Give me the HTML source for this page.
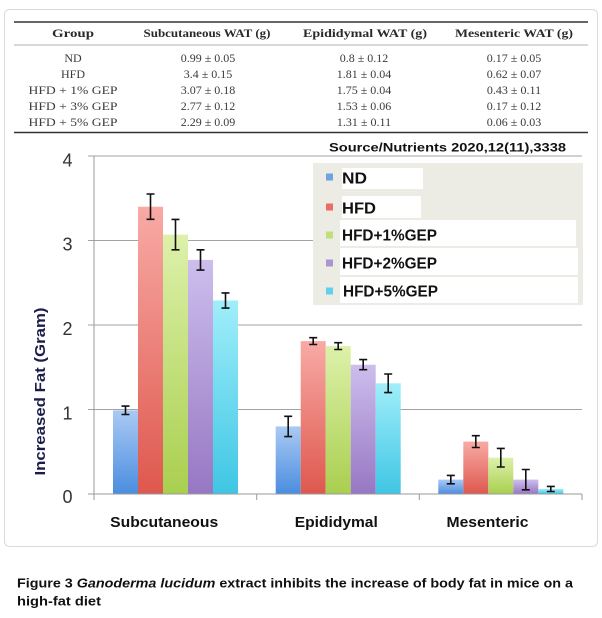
<!DOCTYPE html>
<html>
<head>
<meta charset="utf-8">
<style>
html,body{margin:0;padding:0;background:#fff;}
svg{display:block;}
</style>
</head>
<body>
<svg width="602" height="618" viewBox="0 0 602 618" xmlns="http://www.w3.org/2000/svg">
<defs>
<linearGradient id="gND" x1="0" y1="0" x2="0" y2="1"><stop offset="0" stop-color="#aacaf4"/><stop offset="1" stop-color="#4a8ddf"/></linearGradient>
<linearGradient id="gHFD" x1="0" y1="0" x2="0" y2="1"><stop offset="0" stop-color="#f8aaa5"/><stop offset="1" stop-color="#de584e"/></linearGradient>
<linearGradient id="gG1" x1="0" y1="0" x2="0" y2="1"><stop offset="0" stop-color="#ddf1aa"/><stop offset="1" stop-color="#a9cf4f"/></linearGradient>
<linearGradient id="gG2" x1="0" y1="0" x2="0" y2="1"><stop offset="0" stop-color="#cdbeed"/><stop offset="1" stop-color="#9777c3"/></linearGradient>
<linearGradient id="gG5" x1="0" y1="0" x2="0" y2="1"><stop offset="0" stop-color="#a0eefa"/><stop offset="1" stop-color="#3fc6e4"/></linearGradient>
</defs>

<rect x="0" y="0" width="602" height="618" fill="#fff"/>
<!-- frame -->
<rect x="4.5" y="9.5" width="593" height="537" rx="5" fill="#fff" stroke="#dadada" stroke-width="1"/>

<!-- table -->
<g font-family="'Liberation Serif', serif" fill="#3a3a3a" text-anchor="middle">
<line x1="14" y1="22" x2="588" y2="22" stroke="#333" stroke-width="1.6"/>
<line x1="14" y1="45" x2="588" y2="45" stroke="#999" stroke-width="0.8"/>
<line x1="14" y1="132.5" x2="588" y2="132.5" stroke="#333" stroke-width="1.6"/>
<g font-weight="bold" font-size="12" fill="#2a2a2a">
<text x="73" y="37" textLength="42" lengthAdjust="spacingAndGlyphs">Group</text>
<text x="207" y="37" textLength="127" lengthAdjust="spacingAndGlyphs">Subcutaneous WAT (g)</text>
<text x="365" y="37" textLength="124" lengthAdjust="spacingAndGlyphs">Epididymal WAT (g)</text>
<text x="514" y="37" textLength="118" lengthAdjust="spacingAndGlyphs">Mesenteric WAT (g)</text>
</g>
<g font-size="12">
<text x="73" y="62">ND</text>
<text x="73" y="78">HFD</text>
<text x="73" y="94" textLength="89" lengthAdjust="spacingAndGlyphs">HFD + 1% GEP</text>
<text x="73" y="110" textLength="89" lengthAdjust="spacingAndGlyphs">HFD + 3% GEP</text>
<text x="73" y="126" textLength="89" lengthAdjust="spacingAndGlyphs">HFD + 5% GEP</text>

<text x="208" y="62">0.99 ± 0.05</text>
<text x="208" y="78">3.4 ± 0.15</text>
<text x="208" y="94">3.07 ± 0.18</text>
<text x="208" y="110">2.77 ± 0.12</text>
<text x="208" y="126">2.29 ± 0.09</text>

<text x="364" y="62">0.8 ± 0.12</text>
<text x="364" y="78">1.81 ± 0.04</text>
<text x="364" y="94">1.75 ± 0.04</text>
<text x="364" y="110">1.53 ± 0.06</text>
<text x="364" y="126">1.31 ± 0.11</text>

<text x="514" y="62">0.17 ± 0.05</text>
<text x="514" y="78">0.62 ± 0.07</text>
<text x="514" y="94">0.43 ± 0.11</text>
<text x="514" y="110">0.17 ± 0.12</text>
<text x="514" y="126">0.06 ± 0.03</text>
</g>
</g>

<!-- gridlines -->
<g stroke="#a3a3a3" stroke-width="1">
<line x1="88" y1="156" x2="582" y2="156"/>
<line x1="88" y1="240.5" x2="582" y2="240.5"/>
<line x1="88" y1="325" x2="582" y2="325"/>
<line x1="88" y1="409.5" x2="582" y2="409.5"/>
</g>

<!-- bars -->
<g>
<!-- Subcutaneous -->
<rect x="113" y="410.3" width="25" height="83.7" fill="url(#gND)"/>
<rect x="138" y="206.7" width="25" height="287.3" fill="url(#gHFD)"/>
<rect x="163" y="234.6" width="25" height="259.4" fill="url(#gG1)"/>
<rect x="188" y="259.9" width="25" height="234.1" fill="url(#gG2)"/>
<rect x="213" y="300.5" width="25" height="193.5" fill="url(#gG5)"/>
<!-- Epididymal -->
<rect x="275.7" y="426.4" width="25" height="67.6" fill="url(#gND)"/>
<rect x="300.7" y="341.1" width="25" height="152.9" fill="url(#gHFD)"/>
<rect x="325.7" y="346.1" width="25" height="147.9" fill="url(#gG1)"/>
<rect x="350.7" y="364.7" width="25" height="129.3" fill="url(#gG2)"/>
<rect x="375.7" y="383.3" width="25" height="110.7" fill="url(#gG5)"/>
<!-- Mesenteric -->
<rect x="438.3" y="479.6" width="25" height="14.4" fill="url(#gND)"/>
<rect x="463.3" y="441.6" width="25" height="52.4" fill="url(#gHFD)"/>
<rect x="488.3" y="457.7" width="25" height="36.3" fill="url(#gG1)"/>
<rect x="513.3" y="479.6" width="25" height="14.4" fill="url(#gG2)"/>
<rect x="538.3" y="488.9" width="25" height="5.1" fill="url(#gG5)"/>
</g>

<!-- axes -->
<g stroke="#9a9a9a" stroke-width="1">
<line x1="94" y1="156" x2="94" y2="494"/>
<line x1="88" y1="494" x2="582" y2="494"/>
<line x1="94" y1="494" x2="94" y2="500"/>
<line x1="256.7" y1="494" x2="256.7" y2="500"/>
<line x1="419.3" y1="494" x2="419.3" y2="500"/>
<line x1="582" y1="494" x2="582" y2="500"/>
</g>

<!-- error bars -->
<g stroke="#111" stroke-width="1.6" fill="none">
<path d="M125.5 406.1V414.5M121.5 406.1H129.5M121.5 414.5H129.5"/>
<path d="M150.5 194V219.3M146.5 194H154.5M146.5 219.3H154.5"/>
<path d="M175.5 219.4V249.8M171.5 219.4H179.5M171.5 249.8H179.5"/>
<path d="M200.5 249.8V270.1M196.5 249.8H204.5M196.5 270.1H204.5"/>
<path d="M225.5 292.9V308.1M221.5 292.9H229.5M221.5 308.1H229.5"/>

<path d="M288.2 416.3V436.6M284.2 416.3H292.2M284.2 436.6H292.2"/>
<path d="M313.2 337.7V344.5M309.2 337.7H317.2M309.2 344.5H317.2"/>
<path d="M338.2 342.7V349.5M334.2 342.7H342.2M334.2 349.5H342.2"/>
<path d="M363.2 359.6V369.7M359.2 359.6H367.2M359.2 369.7H367.2"/>
<path d="M388.2 374V392.6M384.2 374H392.2M384.2 392.6H392.2"/>

<path d="M450.8 475.4V483.8M446.8 475.4H454.8M446.8 483.8H454.8"/>
<path d="M475.8 435.7V447.5M471.8 435.7H479.8M471.8 447.5H479.8"/>
<path d="M500.8 448.4V467M496.8 448.4H504.8M496.8 467H504.8"/>
<path d="M525.8 469.5V489.8M521.8 469.5H529.8M521.8 489.8H529.8"/>
<path d="M550.8 486.4V491.5M546.8 486.4H554.8M546.8 491.5H554.8"/>
</g>

<!-- y tick labels -->
<g font-family="'Liberation Sans', sans-serif" font-size="18" fill="#333" text-anchor="end">
<text x="72.5" y="166.5">4</text>
<text x="72.5" y="250.5">3</text>
<text x="72.5" y="335">2</text>
<text x="72.5" y="419.5">1</text>
<text x="72.5" y="503">0</text>
</g>

<!-- y title -->
<text transform="translate(45,391.5) rotate(-90)" font-family="'Liberation Sans', sans-serif" font-weight="bold" font-size="15" fill="#1c1c48" text-anchor="middle" textLength="168" lengthAdjust="spacingAndGlyphs">Increased Fat (Gram)</text>

<!-- category labels -->
<g font-family="'Liberation Sans', sans-serif" font-weight="bold" font-size="15" fill="#111" text-anchor="middle">
<text x="164.2" y="527" textLength="108" lengthAdjust="spacingAndGlyphs">Subcutaneous</text>
<text x="336.3" y="527" textLength="83" lengthAdjust="spacingAndGlyphs">Epididymal</text>
<text x="487.5" y="527" textLength="82" lengthAdjust="spacingAndGlyphs">Mesenteric</text>
</g>

<!-- source -->
<text x="329" y="151.5" font-family="'Liberation Sans', sans-serif" font-weight="bold" font-size="12" fill="#111" textLength="237" lengthAdjust="spacingAndGlyphs">Source/Nutrients 2020,12(11),3338</text>

<!-- legend -->
<rect x="313" y="163" width="270" height="142" fill="#ecebe4"/>
<g fill="#fff">
<rect x="342" y="168" width="81" height="21"/>
<rect x="342" y="196" width="79" height="22"/>
<rect x="340" y="220" width="236" height="26"/>
<rect x="340" y="248" width="238" height="27"/>
<rect x="340" y="277" width="238" height="26"/>
</g>
<g>
<rect x="326" y="173.5" width="7" height="7" fill="#6ea2e2"/>
<rect x="326" y="203.5" width="7" height="7" fill="#ea6d66"/>
<rect x="326" y="231.5" width="7" height="7" fill="#c0de7c"/>
<rect x="326" y="259.5" width="7" height="7" fill="#ac94d4"/>
<rect x="326" y="287.5" width="7" height="7" fill="#5ed2ec"/>
</g>
<g font-family="'Liberation Sans', sans-serif" font-weight="bold" font-size="16" fill="#111">
<text x="342" y="183.3" textLength="25" lengthAdjust="spacingAndGlyphs">ND</text>
<text x="342" y="213.3" textLength="34" lengthAdjust="spacingAndGlyphs">HFD</text>
<text x="342" y="240.3" textLength="95" lengthAdjust="spacingAndGlyphs">HFD+1%GEP</text>
<text x="342" y="268.3" textLength="95" lengthAdjust="spacingAndGlyphs">HFD+2%GEP</text>
<text x="343" y="296.7" textLength="95" lengthAdjust="spacingAndGlyphs">HFD+5%GEP</text>
</g>

<!-- caption -->
<g font-family="'Liberation Sans', sans-serif" font-weight="bold" font-size="13" fill="#111">
<text x="17" y="587.3" textLength="556" lengthAdjust="spacingAndGlyphs">Figure 3  <tspan font-style="italic">Ganoderma lucidum</tspan> extract inhibits the increase of body fat in mice on a</text>
<text x="17" y="605.3" textLength="84" lengthAdjust="spacingAndGlyphs">high-fat diet</text>
</g>
</svg>
</body>
</html>
